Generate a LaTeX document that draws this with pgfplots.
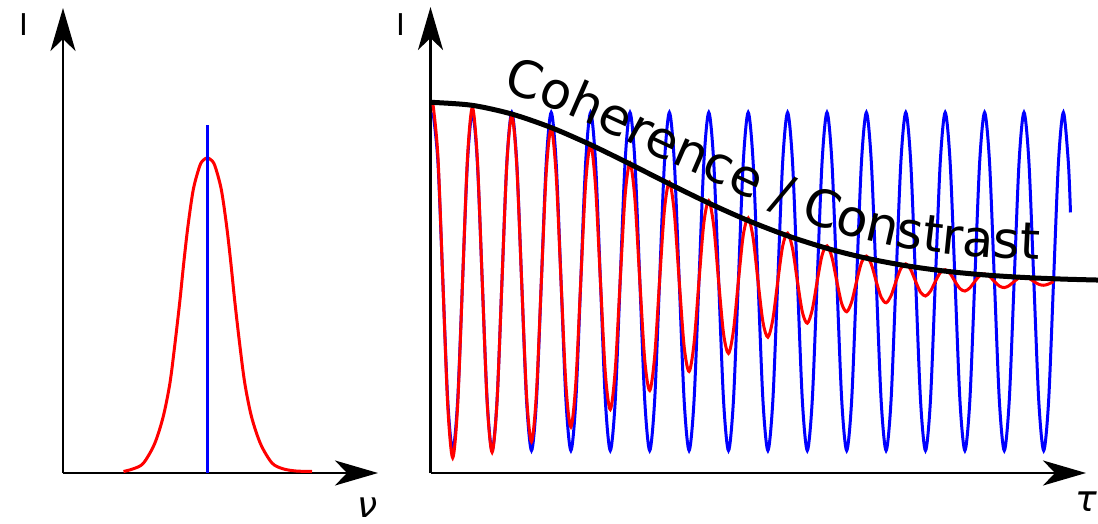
\documentclass[border=0pt]{standalone}
\usepackage{pgfplots}
\pgfplotsset{compat=1.18}
\usepackage{fontspec}
\setmainfont{DejaVu Sans}
\usetikzlibrary{arrows.meta,decorations.text}
\begin{document}
\begin{tikzpicture}[x=1pt,y=1pt]
\useasboundingbox (0,0) rectangle (1098,523);
% ---------------- left panel: spectrum ----------------
\begin{axis}[at={(63pt,50pt)}, anchor=south west, scale only axis,
  width=315pt, height=465pt,
  xmin=0, xmax=315, ymin=0, ymax=465,
  axis lines=left, xtick=\empty, ytick=\empty, enlargelimits=false, clip=false,
  axis line style={line width=2.5pt, -{Stealth[length=43pt,width=25pt,inset=12pt]}}]
\addplot[red, line width=3pt, smooth] coordinates {
(60.5,1.5) (70.3,4.2) (80.3,9.7) (91.5,29) (100.2,56.3) (106.9,89.7) (111.8,128)
(116.8,171.5) (120.9,211.5) (125.1,248) (130.4,284) (136.9,307.5) (140.8,313.3) (144.3,315)
(147.8,313.3) (151.8,307.5) (158.2,284) (163.5,248) (167.7,211.5) (171.8,171.5) (176.8,128)
(181.8,89.7) (188.5,56.3) (197.6,29) (209,10) (220,4.2) (233,2) (249,1.5)};
\addplot[blue, line width=3pt] coordinates {(144.3,0) (144.3,348)};
\node[font=\fontsize{30}{36}\selectfont, inner sep=0pt] at (axis cs:-39,448.8) {I};
\node[font=\fontsize{36}{43}\selectfont\itshape, inner sep=0pt] at (axis cs:305,-35) {ν};
\end{axis}
% ---------------- right panel: interferogram ----------------
\begin{axis}[at={(430.5pt,50pt)}, anchor=south west, scale only axis,
  width=655.5pt, height=466pt,
  xmin=-0.0635, xmax=16.574, ymin=-1.0819, ymax=1.5508,
  axis lines=left, xtick=\empty, ytick=\empty, enlargelimits=false, clip=false,
  axis line style={line width=2.5pt, -{Stealth[length=43pt,width=25pt,inset=12pt]}}]
\addplot[blue, line width=3pt, smooth] coordinates {
(0,0.955) (0.125,0.675) (0.25,0) (0.375,-0.675) (0.5,-0.955) (0.625,-0.675) (0.75,0) (0.875,0.675)
(1,0.955) (1.125,0.675) (1.25,0) (1.375,-0.675) (1.5,-0.955) (1.625,-0.675) (1.75,0) (1.875,0.675)
(2,0.955) (2.125,0.675) (2.25,0) (2.375,-0.675) (2.5,-0.955) (2.625,-0.675) (2.75,0) (2.875,0.675)
(3,0.955) (3.125,0.675) (3.25,0) (3.375,-0.675) (3.5,-0.955) (3.625,-0.675) (3.75,0) (3.875,0.675)
(4,0.955) (4.125,0.675) (4.25,0) (4.375,-0.675) (4.5,-0.955) (4.625,-0.675) (4.75,0) (4.875,0.675)
(5,0.955) (5.125,0.675) (5.25,0) (5.375,-0.675) (5.5,-0.955) (5.625,-0.675) (5.75,0) (5.875,0.675)
(6,0.955) (6.125,0.675) (6.25,0) (6.375,-0.675) (6.5,-0.955) (6.625,-0.675) (6.75,0) (6.875,0.675)
(7,0.955) (7.125,0.675) (7.25,0) (7.375,-0.675) (7.5,-0.955) (7.625,-0.675) (7.75,0) (7.875,0.675)
(8,0.955) (8.125,0.675) (8.25,0) (8.375,-0.675) (8.5,-0.955) (8.625,-0.675) (8.75,0) (8.875,0.675)
(9,0.955) (9.125,0.675) (9.25,0) (9.375,-0.675) (9.5,-0.955) (9.625,-0.675) (9.75,0) (9.875,0.675)
(10,0.955) (10.125,0.675) (10.25,0) (10.375,-0.675) (10.5,-0.955) (10.625,-0.675) (10.75,0) (10.875,0.675)
(11,0.955) (11.125,0.675) (11.25,0) (11.375,-0.675) (11.5,-0.955) (11.625,-0.675) (11.75,0) (11.875,0.675)
(12,0.955) (12.125,0.675) (12.25,0) (12.375,-0.675) (12.5,-0.955) (12.625,-0.675) (12.75,0) (12.875,0.675)
(13,0.955) (13.125,0.675) (13.25,0) (13.375,-0.675) (13.5,-0.955) (13.625,-0.675) (13.75,0) (13.875,0.675)
(14,0.955) (14.125,0.675) (14.25,0) (14.375,-0.675) (14.5,-0.955) (14.625,-0.675) (14.75,0) (14.875,0.675)
(15,0.955) (15.125,0.675) (15.25,0) (15.375,-0.675) (15.5,-0.955) (15.625,-0.675) (15.75,0) (15.875,0.675)
(16,0.955) (16.125,0.675) (16.18,0.39)};
\addplot[red, line width=3pt, smooth] coordinates {
(0,1) (0.125,0.7069) (0.25,0) (0.375,-0.7056) (0.5,-0.9960) (0.625,-0.7027) (0.75,0) (0.875,0.6985)
(1,0.9841) (1.125,0.6929) (1.25,0) (1.375,-0.6860) (1.5,-0.9646) (1.625,-0.6778) (1.75,0) (1.875,0.6684)
(2,0.9379) (2.125,0.6578) (2.25,0) (2.375,-0.6460) (2.5,-0.9047) (2.625,-0.6332) (2.75,0) (2.875,0.6194)
(3,0.8657) (3.125,0.6047) (3.25,0) (3.375,-0.5892) (3.5,-0.8218) (3.625,-0.5729) (3.75,0) (3.875,0.5559)
(4,0.7739) (4.125,0.5384) (4.25,0) (4.375,-0.5204) (4.5,-0.7229) (4.625,-0.5019) (4.75,0) (4.875,0.4832)
(5,0.6699) (5.125,0.4642) (5.25,0) (5.375,-0.4451) (5.5,-0.6159) (5.625,-0.4259) (5.75,0) (5.875,0.4067)
(6,0.5617) (6.125,0.3876) (6.25,0) (6.375,-0.3687) (6.5,-0.5082) (6.625,-0.3500) (6.75,0) (6.875,0.3316)
(7,0.4561) (7.125,0.3135) (7.25,0) (7.375,-0.2958) (7.5,-0.4060) (7.625,-0.2785) (7.75,0) (7.875,0.2618)
(8,0.3586) (8.125,0.2455) (8.25,0) (8.375,-0.2298) (8.5,-0.3142) (8.625,-0.2147) (8.75,0) (8.875,0.2002)
(9,0.2731) (9.125,0.1863) (9.25,0) (9.375,-0.1730) (9.5,-0.2355) (9.625,-0.1602) (9.75,0) (9.875,0.1482)
(10,0.2014) (10.125,0.1368) (10.25,0) (10.375,-0.1260) (10.5,-0.1709) (10.625,-0.1158) (10.75,0) (10.875,0.1063)
(11,0.1439) (11.125,0.0973) (11.25,0) (11.375,-0.0890) (11.5,-0.1202) (11.625,-0.0811) (11.75,0) (11.875,0.0738)
(12,0.0995) (12.125,0.0670) (12.25,0) (12.375,-0.0608) (12.5,-0.0818) (12.625,-0.0550) (12.75,0) (12.875,0.0496)
(13,0.0667) (13.125,0.0448) (13.25,0) (13.375,-0.0402) (13.5,-0.0539) (13.625,-0.0361) (13.75,0) (13.875,0.0323)
(14,0.0433) (14.125,0.0289) (14.25,0) (14.375,-0.0258) (14.5,-0.0344) (14.625,-0.0230) (14.75,0) (14.875,0.0204)
(15,0.0272) (15.125,0.0181) (15.25,0) (15.375,-0.0160) (15.5,-0.0213) (15.625,-0.0141) (15.75,0)};
\addplot[black, line width=5pt, smooth] coordinates {
(-0.063,1.012) (0,1.012) (1,0.9951) (2,0.9460) (3,0.8695) (4,0.7726) (5,0.6639) (6,0.5514)
(7,0.4429) (8,0.3439) (9,0.2582) (10,0.1873) (11,0.1315) (12,0.0893) (13,0.0585)
(14,0.0371) (15,0.0228) (16,0.0135) (16.88,0.0082)};
\addplot[smooth, decorate, decoration={text along path,
  text={|\fontsize{51}{61}\selectfont|Coherence / Constrast}, text align=left}] coordinates {
(1.751,1.0706) (3.020,0.9802) (4.543,0.8333) (5.635,0.7090) (7.081,0.5678) (8.477,0.4266)
(9.822,0.3079) (11.269,0.2175) (12.437,0.1723) (13.807,0.1412) (15.152,0.1243) (16.168,0.1158)};
\node[font=\fontsize{30}{36}\selectfont, inner sep=0pt] at (axis cs:-0.825,1.4537) {I};
\node[font=\fontsize{36}{43}\selectfont\itshape, inner sep=0pt] at (axis cs:16.574,-1.2458) {τ};
\end{axis}
\end{tikzpicture}
\end{document}
